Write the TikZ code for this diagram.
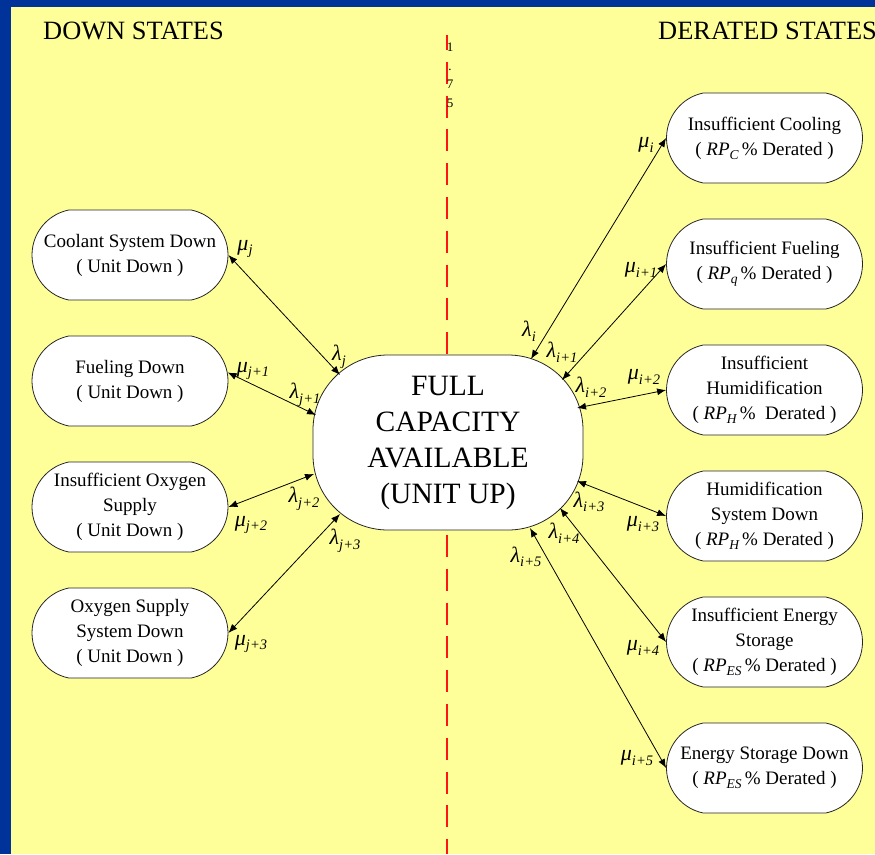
\documentclass[tikz,border=0pt]{standalone}
\usepackage{fontspec}
\setmainfont{Liberation Serif}
\usetikzlibrary{shapes.misc,arrows.meta}
\definecolor{bgyellow}{RGB}{255,255,153}
\definecolor{bordblue}{RGB}{0,51,153}
\definecolor{dashred}{RGB}{255,20,20}
\newcommand{\gl}[2]{{\fontsize{22}{22}\selectfont\itshape #1}\raisebox{-4.5pt}{\fontsize{14.5}{14.5}\selectfont\itshape #2}}
\newcommand{\rp}[1]{\textit{RP}\raisebox{-4pt}{\fontsize{13.5}{13.5}\selectfont\itshape #1}}
\begin{document}
\begin{tikzpicture}[x=1pt,y=-1pt,
  state/.style={rounded rectangle, rounded rectangle arc length=157, draw=black!85, line width=0.8pt,
    fill=white, minimum width=196pt, minimum height=90pt, inner sep=0pt, align=center,
    font=\fontsize{19}{25}\selectfont},
  hub/.style={rectangle, rounded corners=75pt, draw=black!85, line width=0.8pt,
    fill=white, minimum width=270pt, minimum height=175pt, inner sep=0pt, align=center,
    font=\fontsize{29.5}{36}\selectfont},
  lbl/.style={inner sep=0pt},
  link/.style={{Latex[length=9pt,width=7pt]}-{Latex[length=9pt,width=7pt]}, line width=0.8pt},
  titletext/.style={font=\fontsize{26.4}{30}\selectfont, anchor=base west, inner sep=0pt}]
\useasboundingbox (0,0) rectangle (875,854);
\fill[bgyellow] (0,0) rectangle (875,854);
\fill[bordblue] (0,0) rectangle (875,7);
\fill[bordblue] (0,0) rectangle (11,854);

\draw[dashred, line width=2.6pt, dash pattern=on 22pt off 11.8pt, dash phase=7pt] (447,35) -- (447,854);
\node[inner sep=0pt, anchor=north, align=center, font=\fontsize{13}{18.5}\selectfont] (num) at (450,43) {1\\.\\7\\5};

\node[titletext] (tdown) at (43,39) {DOWN STATES};
\node[titletext] (tder) at (658,39) {DERATED STATES};

\node[hub] (hub) at (448,442.5) {FULL\\CAPACITY\\AVAILABLE\\(UNIT UP)};

\node[state] (l1) at (130,255) {Coolant System Down\\( Unit Down )};
\node[state] (l2) at (130,381) {Fueling Down\\( Unit Down )};
\node[state] (l3) at (130,507) {Insufficient Oxygen\\Supply\\( Unit Down )};
\node[state] (l4) at (130,633) {Oxygen Supply\\System Down\\( Unit Down )};

\node[state] (r1) at (764.5,138) {Insufficient Cooling\\( \rp{C}\,\% Derated )};
\node[state] (r2) at (764.5,264) {Insufficient Fueling\\( \rp{q}\,\% Derated )};
\node[state] (r3) at (764.5,390) {Insufficient\\Humidification\\( \rp{H}\,\%\ \ Derated )};
\node[state] (r4) at (764.5,516) {Humidification\\System Down\\( \rp{H}\,\% Derated )};
\node[state] (r5) at (764.5,642) {Insufficient Energy\\Storage\\( \rp{ES}\,\% Derated )};
\node[state] (r6) at (764.5,768) {Energy Storage Down\\( \rp{ES}\,\% Derated )};

% points on the border of the hub where the arrows meet it
\path (hub.center) ++(-108,-67.5) coordinate (h1);
\path (hub.center) ++(-132,-27.5) coordinate (h2);
\path (hub.center) ++(-134,31.5) coordinate (h3);
\path (hub.center) ++(-108,71.5) coordinate (h4);
\path (hub.center) ++(83,-83.5) coordinate (h5);
\path (hub.center) ++(114,-62.5) coordinate (h6);
\path (hub.center) ++(129,-34.5) coordinate (h7);
\path (hub.center) ++(129,38.5) coordinate (h8);
\path (hub.center) ++(112,65.5) coordinate (h9);
\path (hub.center) ++(82,85.5) coordinate (h10);

\draw[link] (l1.east) -- (h1);
\draw[link] (l2.5) -- (h2);
\draw[link] (l3.east) -- (h3);
\draw[link] (l4.east) -- (h4);

\draw[link] (h5) -- (r1.west);
\draw[link] (h6) -- (r2.west);
\draw[link] (h7) -- (r3.west);
\draw[link] (h8) -- (r4.west);
\draw[link] (h9) -- (r5.west);
\draw[link] (h10) -- (r6.west);

\node[lbl] (muj)  at (245,249) {\gl{μ}{j}};
\node[lbl] (lamj) at (339,357) {\gl{λ}{j}};
\node[lbl] (muj1) at (253,371) {\gl{μ}{j+1}};
\node[lbl] (lamj1) at (305,395) {\gl{λ}{j+1}};
\node[lbl] (lamj2) at (304,499) {\gl{λ}{j+2}};
\node[lbl] (muj2) at (251,525) {\gl{μ}{j+2}};
\node[lbl] (lamj3) at (345,541) {\gl{λ}{j+3}};
\node[lbl] (muj3) at (251,644) {\gl{μ}{j+3}};

\node[lbl] (mui)  at (646,145) {\gl{μ}{i}};
\node[lbl] (mui1) at (641,270) {\gl{μ}{i+1}};
\node[lbl] (lami) at (529,331) {\gl{λ}{i}};
\node[lbl] (lami1) at (562,352) {\gl{λ}{i+1}};
\node[lbl] (lami2) at (591,387) {\gl{λ}{i+2}};
\node[lbl] (mui2) at (644,377) {\gl{μ}{i+2}};
\node[lbl] (lami3) at (589,502) {\gl{λ}{i+3}};
\node[lbl] (mui3) at (643,524) {\gl{μ}{i+3}};
\node[lbl] (lami4) at (564,533) {\gl{λ}{i+4}};
\node[lbl] (lami5) at (526,557) {\gl{λ}{i+5}};
\node[lbl] (mui4) at (643,648) {\gl{μ}{i+4}};
\node[lbl] (mui5) at (637,758) {\gl{μ}{i+5}};
\end{tikzpicture}
\end{document}
